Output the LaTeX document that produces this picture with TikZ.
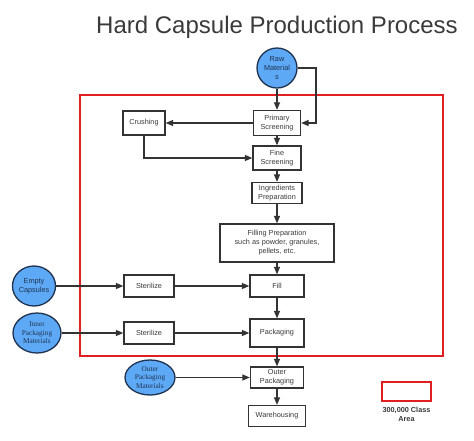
\documentclass[tikz,border=0pt]{standalone}
\usepackage{fontspec}
\setmainfont{Liberation Sans}
\newfontfamily\serifx{Liberation Serif}
\usetikzlibrary{arrows.meta,shapes.geometric}
\definecolor{edge}{HTML}{333333}
\definecolor{bluef}{HTML}{5DA9F6}
\definecolor{navy}{HTML}{1F3350}
\definecolor{txt}{HTML}{3A3A3A}
\definecolor{redl}{HTML}{E02020}
\tikzset{
  procbox/.style={draw=edge, line width=1.3pt, fill=white, text=txt, align=center,
    font=\fontsize{7.3}{9}\selectfont, inner sep=0pt, anchor=center},
  srcnode/.style={ellipse, draw=navy, line width=1.3pt, fill=bluef, text=navy, align=center,
    inner sep=0pt},
  conn/.style={draw=edge, line width=1.3pt, -{Triangle[length=7.5pt,width=6pt]}},
}
\begin{document}
\begin{tikzpicture}[x=1pt,y=-1pt]
\useasboundingbox (0,0) rectangle (474,440);
% title
\node (title) at (277,27) {\fontsize{24}{28}\selectfont\color{txt}Hard Capsule Production Process};
% red area
\draw[redl, line width=1.2pt] (80,95) rectangle (443,356);
% nodes
\node[srcnode, minimum width=40pt, minimum height=40pt, font=\fontsize{7.3}{9}\selectfont] (raw) at (277,68) {Raw\\Material\\s};
\node[procbox, minimum width=47pt, minimum height=25pt] (ps) at (277,123) {Primary\\Screening};
\node[procbox, minimum width=42pt, minimum height=24pt] (crush) at (144,123) {Crushing};
\node[procbox, minimum width=48pt, minimum height=24pt] (fine) at (277,158) {Fine\\Screening};
\node[procbox, minimum width=50pt, minimum height=21pt] (ingr) at (277,193) {Ingredients\\Preparation};
\node[procbox, minimum width=114pt, minimum height=38pt] (fprep) at (277,243) {Filling Preparation\\such as powder, granules,\\pellets, etc.};
\node[procbox, minimum width=54pt, minimum height=22pt] (fill) at (277,286) {Fill};
\node[procbox, minimum width=50pt, minimum height=22pt] (ster1) at (149,286) {Sterilize};
\node[procbox, minimum width=54pt, minimum height=28pt] (pack) at (277,333) {Packaging};
\node[procbox, minimum width=50pt, minimum height=22pt] (ster2) at (149,333) {Sterilize};
\node[procbox, minimum width=53pt, minimum height=21pt] (outer) at (277,377.5) {Outer\\Packaging};
\node[procbox, minimum width=57pt, minimum height=21pt] (ware) at (277,416) {Warehousing};
\node[srcnode, minimum width=42pt, minimum height=40pt, font=\fontsize{7.3}{9}\selectfont] (empty) at (34,286) {Empty\\Capsules};
\node[srcnode, minimum width=48pt, minimum height=40pt, font=\serifx\fontsize{7.3}{8.5}\selectfont] (inner) at (37,333) {Inner\\Packaging\\Materials};
\node[srcnode, minimum width=50pt, minimum height=35pt, font=\serifx\fontsize{7.3}{8.5}\selectfont] (outm) at (150,377.5) {Outer\\Packaging\\Materials};
% legend
\node[draw=redl, line width=1.2pt, minimum width=49pt, minimum height=19pt, inner sep=0pt] (leg) at (406.5,391.5) {};
\node[font=\bfseries\fontsize{7.3}{9}\selectfont, text=txt, align=center, inner sep=0pt] (legt) at (406.5,414) {300,000 Class\\Area};
% connectors
\coordinate (rtop) at (316,68);
\coordinate (rbot) at (316,123);
\draw[conn] (raw.south) -- (ps.north);
\draw[conn] (raw.east) -- (rtop) -- (rbot) -- (ps.east);
\draw[conn] (ps.west) -- (crush.east);
\draw[conn] (crush.south) |- (fine.west);
\draw[conn] (ps.south) -- (fine.north);
\draw[conn] (fine.south) -- (ingr.north);
\draw[conn] (ingr.south) -- (fprep.north);
\draw[conn] (fprep.south) -- (fill.north);
\draw[conn] (fill.south) -- (pack.north);
\draw[conn] (pack.south) -- (outer.north);
\draw[conn] (outer.south) -- (ware.north);
\draw[conn] (empty.east) -- (ster1.west);
\draw[conn] (ster1.east) -- (fill.west);
\draw[conn] (inner.east) -- (ster2.west);
\draw[conn] (ster2.east) -- (pack.west);
\draw[conn] (outm.east) -- (outer.west);
\end{tikzpicture}
\end{document}
